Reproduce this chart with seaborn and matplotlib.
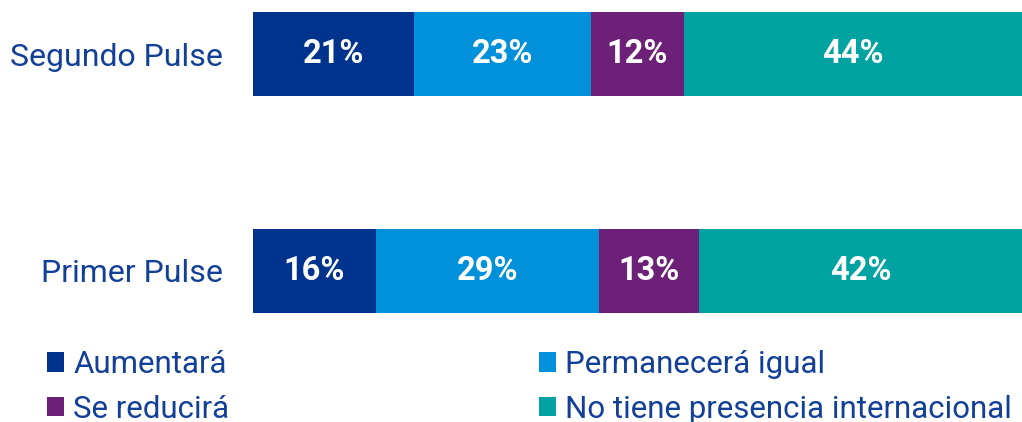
import pandas as pd
import seaborn as sns
import matplotlib.pyplot as plt
from matplotlib.patches import Patch

# Data
categories = ["Segundo Pulse", "Primer Pulse"]
series = ["Aumentará", "Permanecerá igual", "Se reducirá", "No tiene presencia internacional"]
aumentara = [21, 16]
permanecera = [23, 29]
reducira = [12, 13]
sin_presencia = [44, 42]
colors = ["#00338D", "#0091DA", "#6D2077", "#00A3A1"]
label_color = "#123F98"

df = pd.DataFrame({
    "categoria": categories,
    series[0]: aumentara,
    series[1]: permanecera,
    series[2]: reducira,
    series[3]: sin_presencia,
})
cum = df[series].cumsum(axis=1)

sns.set_theme(style="white")
plt.rcParams["font.family"] = ["Roboto", "DejaVu Sans"]

fig = plt.figure(figsize=(10.22, 4.22), dpi=100)
ax = fig.add_axes([253 / 1022, 1 - 313 / 422, 1 - 253 / 1022, (313 - 12) / 422])

# stacked bars: draw cumulative totals from the back
for s, c in reversed(list(zip(series, colors))):
    sns.barplot(data=cum.assign(categoria=categories), x=s, y="categoria",
                orient="h", color=c, width=0.39, saturation=1, ax=ax,
                edgecolor="none", linewidth=0)

# value labels
for i, cat in enumerate(categories):
    left = 0
    for s in series:
        v = df.loc[i, s]
        ax.text(left + v / 2, i, f"{v}%", ha="center", va="center",
                color="white", fontsize=23.5, fontweight="bold")
        left += v

ax.set_xlim(0, 100)
ax.set_ylim(1.195, -0.195)
ax.set_xlabel("")
ax.set_ylabel("")
ax.set_xticks([])
ax.tick_params(axis="y", length=0, pad=22, labelsize=23, labelcolor=label_color)
sns.despine(ax=ax, left=True, bottom=True)

handles = [Patch(facecolor=colors[i], edgecolor="none") for i in [0, 2, 1, 3]]
labels = [series[i] for i in [0, 2, 1, 3]]
fig.legend(handles, labels, ncol=2, loc="upper left",
           bbox_to_anchor=(47 / 1022, 1 - 350 / 422), frameon=False,
           prop={"size": 22.5}, labelcolor=label_color,
           handlelength=0.54, handleheight=0.57, handletextpad=0.3,
           columnspacing=9.9, labelspacing=0.5, borderpad=0,
           borderaxespad=0)

fig.savefig("out.png", dpi=100)
